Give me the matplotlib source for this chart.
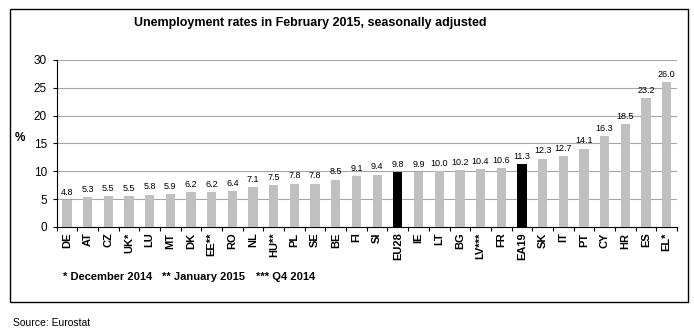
import numpy as np
import matplotlib
matplotlib.use("Agg")
import matplotlib.pyplot as plt
from matplotlib.patches import Rectangle

plt.rcParams["font.family"] = ["Liberation Sans", "DejaVu Sans"]

paises = ["DE", "AT", "CZ", "UK*", "LU", "MT", "DK", "EE**", "RO", "NL", "HU**", "PL",
          "SE", "BE", "FI", "SI", "EU28", "IE", "LT", "BG", "LV***", "FR", "EA19",
          "SK", "IT", "PT", "CY", "HR", "ES", "EL*"]
tasas = [4.8, 5.3, 5.5, 5.5, 5.8, 5.9, 6.2, 6.2, 6.4, 7.1, 7.5, 7.8,
         7.8, 8.5, 9.1, 9.4, 9.8, 9.9, 10.0, 10.2, 10.4, 10.6, 11.3,
         12.3, 12.7, 14.1, 16.3, 18.5, 23.2, 26.0]
agregados = ["EU28", "EA19"]
notas = ["* December 2014", "** January 2015", "*** Q4 2014"]

fig = plt.figure(figsize=(6.94, 3.32), dpi=100)
ax = fig.add_axes([0.0816, 0.3163, 0.8939, 0.503])

x = np.arange(len(paises))
colores = ["black" if p in agregados else "#c0c0c0" for p in paises]
ax.bar(x, tasas, width=0.45, color=colores, zorder=3)
for xi, v in zip(x, tasas):
    ax.text(xi, v + 0.6, f"{v:.1f}", ha="center", va="bottom", fontsize=6.5)

ax.set_xlim(-0.5, len(paises) - 0.5)
ax.set_ylim(0, 30)
ax.set_yticks(range(0, 31, 5))
ax.yaxis.grid(True, color="#a6a6a6", linewidth=0.8, zorder=0)
ax.tick_params(axis="y", labelsize=8.5, length=3, width=0.8, pad=4)
ax.set_xticks(x)
ax.set_xticklabels(paises, rotation=90, fontsize=8, fontweight="bold")
ax.tick_params(axis="x", which="major", length=0, pad=4)
ax.set_xticks(np.arange(-0.5, len(paises), 1), minor=True)
ax.tick_params(axis="x", which="minor", length=3, width=0.8)
for s in ["top", "right"]:
    ax.spines[s].set_visible(False)
ax.spines["left"].set_linewidth(0.8)
ax.spines["bottom"].set_linewidth(0.8)

fig.text(20 / 694, 1 - 138 / 332, "%", fontsize=8.5, fontweight="bold", ha="center", va="center")
fig.text(310 / 694, 1 - 23 / 332, "Unemployment rates in February 2015, seasonally adjusted",
         fontsize=9, fontweight="bold", ha="center", va="center")
for xp, nota in zip([63, 162, 256], notas):
    fig.text(xp / 694, 1 - 277 / 332, nota, fontsize=8, fontweight="bold", ha="left", va="center")
fig.text(13 / 694, 1 - 323 / 332, "Source: Eurostat", fontsize=7.5, ha="left", va="center")

fig.patches.append(Rectangle((10 / 694, 1 - 302 / 332), 678 / 694, 293 / 332,
                             transform=fig.transFigure, fill=False, edgecolor="black",
                             linewidth=1))

fig.savefig("out.png", dpi=100)
